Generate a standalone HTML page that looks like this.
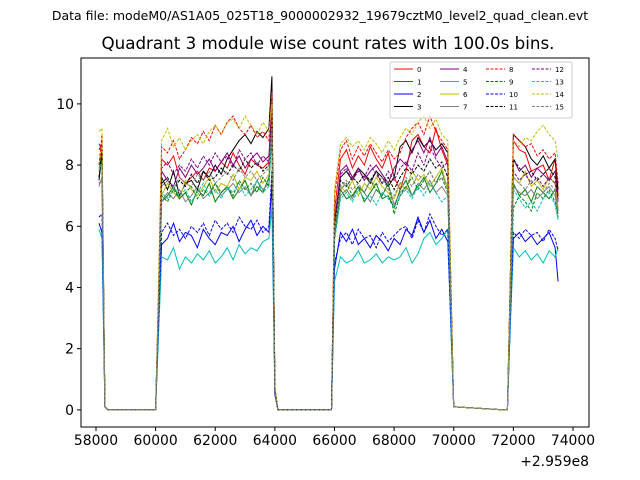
<!DOCTYPE html>
<html><head><meta charset="utf-8"><style>
body{margin:0;background:#fff;}
svg{display:block;font-family:"DejaVu Sans","Liberation Sans",sans-serif;}
</style></head><body>
<svg id="chart" width="640" height="480" viewBox="0 0 640 480">
<rect width="640" height="480" fill="#fff"/>
<text x="320" y="20" font-size="12.5" text-anchor="middle">Data file: modeM0/AS1A05_025T18_9000002932_19679cztM0_level2_quad_clean.evt</text>
<text x="328" y="49" font-size="16.7" text-anchor="middle">Quadrant 3 module wise count rates with 100.0s bins.</text>
<g id="plot"></g>
<rect x="81" y="58" width="508" height="369" fill="none" stroke="#000" stroke-width="1"/>
<g id="axes"></g>
<text x="589" y="466" font-size="13.9" text-anchor="end">+2.959e8</text>
<g id="legend"></g>
</svg>
<script>
const times=[58100,58200,58300,58400,59900,60000,60100,60200,60400,60600,60800,61000,61200,61400,61600,61800,62000,62200,62400,62600,62800,63000,63200,63400,63600,63800,63900,64000,64100,65800,65900,66000,66200,66400,66600,66800,67000,67200,67400,67600,67800,68000,68200,68400,68600,68800,69000,69200,69400,69600,69800,69900,70000,71700,71800,71900,72000,72200,72400,72600,72800,73000,73200,73400,73500];
const seriesNames=["0","1","2","3","4","5","6","7","8","9","10","11","12","13","14","15"];
const s0=[7.4,7.5,0.1,0,0,0,3.8,8.2,8.0,8.3,7.6,7.4,7.6,7.8,7.5,7.9,7.8,8.1,7.9,8.4,8.0,7.7,8.2,8.0,7.9,8.1,10.2,0.7,0,0,0,6.5,8.2,8.5,7.9,8.3,8.0,8.6,8.2,7.9,8.4,7.6,7.2,7.8,8.8,9.0,8.6,8.4,9.2,8.5,8.0,4.0,0.1,0,0,4.2,8.8,8.5,8.4,7.8,7.9,8.0,7.5,8.2,7.0];
const s1=[7.6,8.2,0.1,0,0,0,3.3,6.8,7.0,7.3,6.9,7.1,6.7,7.2,7.0,7.4,6.8,7.1,7.3,6.9,7.2,7.5,7.0,7.3,7.1,7.6,9.5,0.6,0,0,0,5.8,7.2,6.9,7.0,7.3,6.8,7.1,7.4,6.9,7.0,6.6,7.2,7.5,7.0,7.3,7.6,7.1,7.4,7.8,7.2,3.5,0.1,0,0,3.6,7.4,7.0,7.2,6.8,7.3,7.1,6.9,7.2,6.5];
const s2=[6.1,5.8,0.1,0,0,0,2.8,5.4,5.6,6.1,5.5,5.8,5.7,5.3,5.9,5.6,5.4,5.8,5.7,6.0,5.5,5.9,6.2,5.7,6.0,5.8,7.4,0.5,0,0,0,4.6,5.8,5.5,5.9,5.4,5.6,5.3,5.7,5.5,5.2,5.6,5.4,5.9,5.7,6.3,5.8,6.2,5.6,5.9,5.5,2.9,0.1,0,0,3.0,5.6,5.8,5.5,5.7,5.4,5.6,5.8,5.3,4.2];
const s3=[7.5,8.4,0.1,0,0,0,3.6,7.6,7.2,7.8,7.0,7.4,7.5,7.2,7.8,7.6,8.0,7.7,8.2,8.5,8.8,9.0,8.7,9.1,8.9,9.2,10.9,0.7,0,0,0,6.2,7.6,7.8,7.5,7.9,7.7,7.4,7.8,7.6,7.3,7.6,8.6,8.8,8.4,8.9,8.6,8.8,8.5,8.7,8.4,4.2,0.1,0,0,4.5,9.0,8.8,8.6,8.2,8.0,8.3,7.9,8.2,7.2];
const s4=[8.7,8.5,0.1,0,0,0,3.7,7.8,7.5,7.3,7.9,7.6,8.0,7.7,7.9,8.2,7.8,8.1,8.4,8.0,8.3,7.9,8.2,8.4,8.1,8.3,9.8,0.6,0,0,0,6.0,7.8,8.0,7.6,7.9,7.5,7.8,8.0,7.7,7.4,7.9,8.2,8.0,8.5,8.8,8.4,8.9,8.3,8.6,8.1,4.0,0.1,0,0,4.1,8.2,7.8,8.0,7.6,7.9,7.7,7.5,7.8,6.8];
const s5=[5.9,5.6,0.1,0,0,0,2.5,5.0,4.9,5.3,4.6,5.0,4.8,5.1,4.9,5.2,4.8,5.0,5.3,4.9,5.4,5.1,5.3,5.2,5.5,5.6,6.6,0.5,0,0,0,4.2,5.0,4.8,4.9,5.2,4.8,4.9,5.1,4.8,5.0,4.9,5.0,5.3,4.8,5.1,5.6,5.8,5.4,5.6,5.9,2.7,0.1,0,0,2.8,5.3,5.0,5.2,4.9,5.1,4.8,5.2,5.0,5.3];
const s6=[7.8,8.8,0.1,0,0,0,3.4,7.0,7.4,7.1,6.9,7.5,7.2,7.0,7.3,7.6,7.1,7.4,7.3,7.7,7.2,7.6,7.5,7.8,7.4,7.7,9.4,0.6,0,0,0,5.9,7.3,7.1,7.5,7.0,7.4,7.2,7.6,7.3,7.1,6.9,7.4,7.2,7.8,7.5,7.7,7.3,7.6,7.9,7.2,3.6,0.1,0,0,3.8,7.6,7.4,7.8,7.3,7.5,7.2,7.6,7.4,6.6];
const s7=[7.3,7.6,0.1,0,0,0,3.2,6.8,7.1,6.9,7.2,6.8,7.0,7.3,6.9,7.1,7.4,7.0,7.2,7.4,7.1,7.3,7.0,7.5,7.2,7.4,9.0,0.6,0,0,0,5.6,7.0,7.2,6.9,7.3,7.1,6.8,7.2,7.0,7.4,6.7,7.1,7.3,7.0,7.4,7.2,7.5,7.1,7.3,7.0,3.5,0.1,0,0,3.6,7.3,7.1,7.0,7.2,6.9,7.1,7.3,7.0,6.4];
const s8=[8.0,9.0,0.1,0,0,0,4.0,8.6,8.4,8.8,8.2,8.5,8.9,8.7,9.1,8.8,9.3,9.0,9.4,9.6,9.2,9.0,9.3,8.9,9.1,8.8,10.4,0.7,0,0,0,7.0,8.5,8.8,8.2,8.6,8.3,8.7,8.4,8.1,8.5,8.2,8.4,8.9,9.2,9.4,9.0,9.6,9.1,8.8,8.5,4.2,0.1,0,0,4.4,9.0,8.8,8.6,8.7,8.3,8.5,8.2,8.4,7.4];
const s9=[8.0,8.3,0.1,0,0,0,3.3,7.0,6.8,7.2,6.9,7.1,7.3,6.9,7.2,7.0,7.4,7.1,7.3,7.0,7.5,7.2,7.4,7.1,7.6,7.3,9.2,0.6,0,0,0,5.7,7.2,7.4,7.0,7.3,7.1,7.5,7.2,7.0,7.4,6.4,7.0,7.3,7.6,7.2,7.5,7.8,7.4,7.6,7.1,3.6,0.1,0,0,3.4,6.6,7.0,6.8,6.5,7.1,6.9,7.2,6.8,6.3];
const s10=[6.3,6.4,0.1,0,0,0,2.9,5.8,6.1,5.7,5.9,5.6,6.0,5.8,6.1,5.7,6.2,5.9,6.1,5.8,6.3,6.0,5.9,6.2,5.8,6.0,7.8,0.5,0,0,0,4.8,5.6,5.8,5.4,5.9,5.6,5.7,5.3,5.8,5.5,5.7,5.9,6.0,5.6,6.2,5.8,6.4,6.0,5.7,5.9,2.9,0.1,0,0,3.0,5.8,5.6,5.9,5.7,5.8,5.5,5.9,5.6,5.2];
const s11=[7.6,8.5,0.1,0,0,0,3.5,7.4,7.6,7.2,7.5,7.3,7.7,7.4,7.8,7.5,7.6,7.9,7.7,8.0,7.8,8.2,7.9,8.1,7.8,8.0,9.6,0.6,0,0,0,6.0,7.5,7.3,7.6,7.4,7.7,7.5,7.8,7.4,7.6,7.2,7.6,7.9,7.7,8.0,7.8,8.2,7.9,8.1,7.6,3.9,0.1,0,0,4.0,8.2,7.9,7.7,7.8,7.5,7.7,7.9,7.6,6.9];
const s12=[8.5,8.7,0.1,0,0,0,3.8,7.9,8.1,7.7,8.0,7.8,8.2,7.9,8.3,8.0,8.4,8.1,8.3,7.9,8.5,8.2,8.4,8.0,8.3,8.1,9.7,0.6,0,0,0,6.2,7.7,7.9,7.5,7.8,7.6,8.0,7.7,7.4,7.8,7.5,7.9,8.1,7.8,8.4,8.0,8.6,8.2,7.9,8.1,3.9,0.1,0,0,4.0,7.8,7.5,7.7,7.4,7.6,7.3,7.6,7.4,6.9];
const s13=[7.8,8.1,0.1,0,0,0,3.4,7.1,6.9,7.3,7.0,7.2,6.8,7.1,7.4,7.0,7.2,6.9,7.3,7.1,7.4,7.0,7.2,7.5,7.1,7.3,9.1,0.6,0,0,0,5.5,6.9,7.1,6.8,7.2,6.9,7.0,6.7,7.1,6.9,6.6,7.0,7.2,6.9,7.3,7.0,7.4,7.1,6.8,7.0,3.5,0.1,0,0,3.4,7.2,6.9,6.6,6.8,6.5,6.9,7.1,6.7,6.2];
const s14=[9.1,9.2,0.1,0,0,0,4.3,8.8,9.2,8.6,8.9,8.5,8.8,9.0,8.7,9.1,9.3,9.0,9.4,9.5,9.2,9.6,9.3,9.0,9.4,9.1,10.0,0.7,0,0,0,7.2,8.7,8.9,8.6,8.8,8.5,8.9,8.7,8.4,8.8,8.5,8.9,9.2,9.0,9.4,9.6,9.2,9.5,9.0,8.8,4.4,0.1,0,0,4.5,8.8,8.6,8.9,8.8,9.1,9.3,9.0,8.8,8.2];
const s15=[7.9,8.0,0.1,0,0,0,3.4,7.3,7.5,7.2,7.6,7.4,7.3,7.7,7.5,7.8,7.4,7.6,7.8,7.5,7.9,7.6,7.8,7.5,7.7,7.9,9.3,0.6,0,0,0,5.9,7.3,7.5,7.2,7.4,7.1,7.5,7.3,7.6,7.2,7.0,7.4,7.6,7.3,7.7,7.5,7.8,7.4,7.6,7.3,3.7,0.1,0,0,3.8,7.6,7.4,7.2,7.5,7.3,7.1,7.4,7.2,6.5];
const xTicks=[58000,60000,62000,64000,66000,68000,70000,72000,74000];
const yTicks=[0,2,4,6,8,10];

const allSeries=[s0,s1,s2,s3,s4,s5,s6,s7,s8,s9,s10,s11,s12,s13,s14,s15];
const colors=["#ff0000","#008000","#0000ff","#000000","#800080","#00bfbf","#bfbf00","#808080"];
const NS="http://www.w3.org/2000/svg";
const X0=81,X1=589,Y0=58,Y1=427;
const xMin=57497,xMax=74537,yMin=-0.56,yMax=11.5;
function xs(v){return X0+(v-xMin)/(xMax-xMin)*(X1-X0);}
function ys(v){return Y1-(v-yMin)/(yMax-yMin)*(Y1-Y0);}
const plot=document.getElementById('plot');
allSeries.forEach((arr,i)=>{
  const p=document.createElementNS(NS,'polyline');
  p.setAttribute('points',arr.map((v,j)=>xs(times[j]).toFixed(1)+','+ys(v).toFixed(1)).join(' '));
  p.setAttribute('fill','none');
  p.setAttribute('stroke',colors[i%8]);
  p.setAttribute('stroke-width','1');
  if(i>=8)p.setAttribute('stroke-dasharray','3,1.5');
  
  
  plot.appendChild(p);
});
const axes=document.getElementById('axes');
xTicks.forEach(t=>{
  const x=xs(t);
  const l=document.createElementNS(NS,'line');
  l.setAttribute('x1',x);l.setAttribute('x2',x);l.setAttribute('y1',Y1);l.setAttribute('y2',Y1+4);
  l.setAttribute('stroke','#000');
  
  
  axes.appendChild(l);
  const tx=document.createElementNS(NS,'text');
  tx.setAttribute('x',x);tx.setAttribute('y',Y1+18);tx.setAttribute('font-size','13.9');tx.setAttribute('text-anchor','middle');
  tx.textContent=t;
  
  
  axes.appendChild(tx);
});
yTicks.forEach(t=>{
  const y=ys(t);
  const l=document.createElementNS(NS,'line');
  l.setAttribute('x1',X0-4);l.setAttribute('x2',X0);l.setAttribute('y1',y);l.setAttribute('y2',y);
  l.setAttribute('stroke','#000');
  
  
  axes.appendChild(l);
  const tx=document.createElementNS(NS,'text');
  tx.setAttribute('x',X0-7);tx.setAttribute('y',y+5);tx.setAttribute('font-size','13.9');tx.setAttribute('text-anchor','end');
  tx.textContent=t;
  
  
  axes.appendChild(tx);
});
const leg=document.getElementById('legend');
const box=document.createElementNS(NS,'rect');
box.setAttribute('x',390);box.setAttribute('y',62);box.setAttribute('width',182);box.setAttribute('height',56);
box.setAttribute('fill','#fff');box.setAttribute('fill-opacity','0.8');box.setAttribute('stroke','#ccc');box.setAttribute('rx','2');


leg.appendChild(box);
const colX=[394,440,486,532];
seriesNames.forEach((n,i)=>{
  const c=Math.floor(i/4),r=i%4;
  const x=colX[c],y=69+r*12.5;
  const l=document.createElementNS(NS,'line');
  l.setAttribute('x1',x);l.setAttribute('x2',x+19);l.setAttribute('y1',y);l.setAttribute('y2',y);
  l.setAttribute('stroke',colors[i%8]);l.setAttribute('stroke-width','1');
  if(i>=8)l.setAttribute('stroke-dasharray','3,1.5');
  
  
  leg.appendChild(l);
  const t=document.createElementNS(NS,'text');
  t.setAttribute('x',x+23);t.setAttribute('y',y+3);t.setAttribute('font-size','7');
  t.textContent=n;
  
  
  leg.appendChild(t);
});
</script>
</body></html>
